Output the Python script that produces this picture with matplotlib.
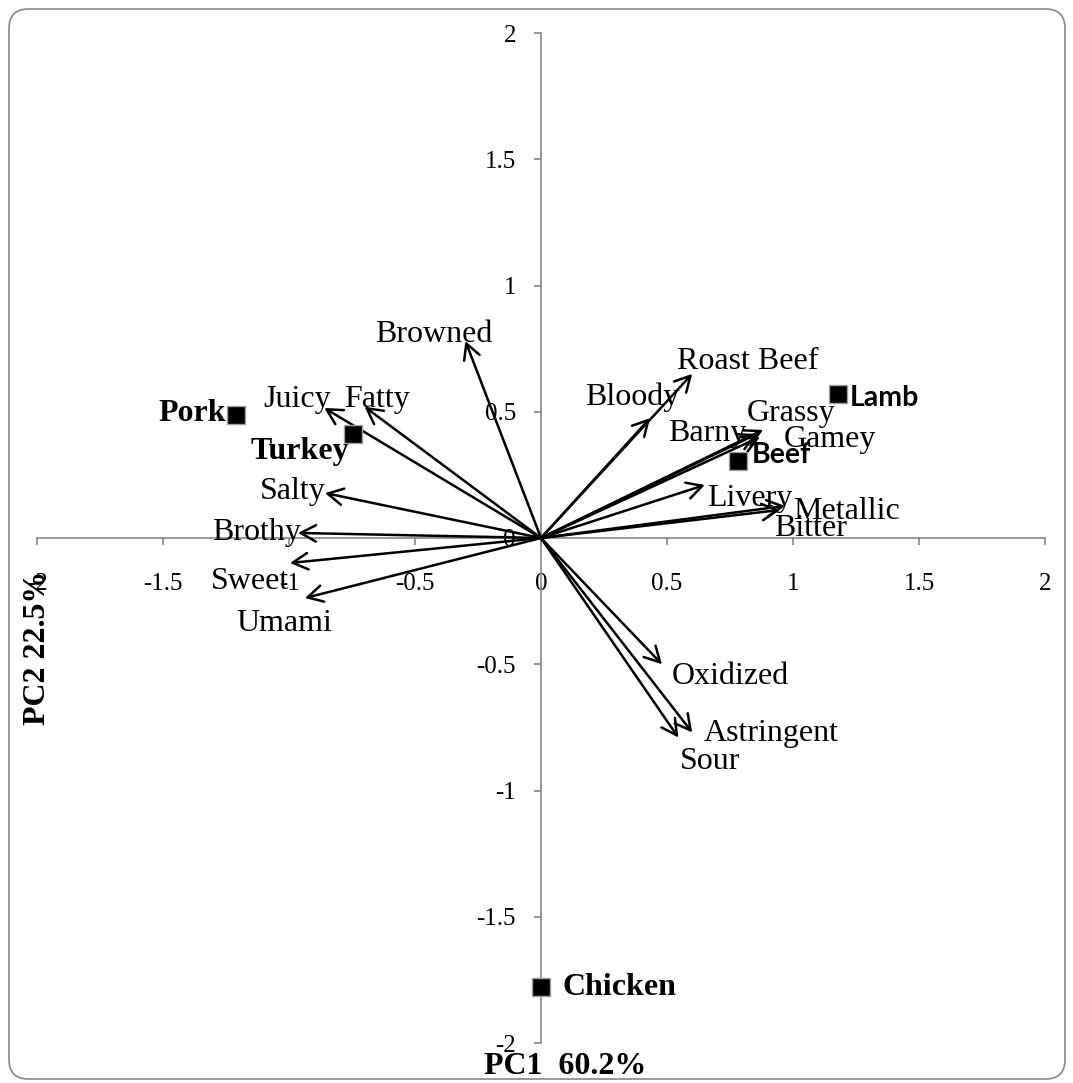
import matplotlib.pyplot as plt
from matplotlib.patches import FancyBboxPatch
from matplotlib.ticker import FixedLocator, FuncFormatter

# attribute loadings (PC1, PC2)
attributes = ['Browned', 'Juicy', 'Fatty', 'Salty', 'Brothy', 'Sweet', 'Umami',
              'Bloody', 'Roast Beef', 'Barny', 'Grassy', 'Gamey', 'Livery',
              'Metallic', 'Bitter', 'Oxidized', 'Astringent', 'Sour']
load_pc1 = [-0.30, -0.86, -0.70, -0.857, -0.964, -0.996, -0.937,
            0.433, 0.60, 0.857, 0.881, 0.869, 0.65,
            0.968, 0.948, 0.48, 0.60, 0.545]
load_pc2 = [0.78, 0.515, 0.52, 0.178, 0.020, -0.099, -0.238,
            0.475, 0.65, 0.412, 0.428, 0.400, 0.21,
            0.127, 0.111, -0.50, -0.77, -0.79]

# where each attribute name sits
label_x = [-0.425, -0.968, -0.651, -0.984, -1.127, -1.155, -1.020,
           0.361, 0.821, 0.659, 0.992, 1.147, 0.829,
           1.214, 1.071, 0.75, 0.913, 0.671]
label_y = [0.805, 0.548, 0.548, 0.184, 0.022, -0.172, -0.339,
           0.556, 0.699, 0.414, 0.493, 0.390, 0.156,
           0.105, 0.038, -0.549, -0.774, -0.885]

# meat sample scores
meats = ['Pork', 'Turkey', 'Lamb', 'Beef', 'Chicken']
score_pc1 = [-1.212, -0.746, 1.177, 0.780, 0.0]
score_pc2 = [0.489, 0.412, 0.570, 0.305, -1.78]

ticks = [-2, -1.5, -1, -0.5, 0, 0.5, 1, 1.5, 2]

serif = 'Liberation Serif'
grey = '#868686'

fig = plt.figure(figsize=(10.73, 10.83), dpi=100)
ax = fig.add_axes([37 / 1073, 1 - 1043 / 1083, 1008 / 1073, 1010 / 1083])
ax.set_xlim(-2, 2)
ax.set_ylim(-2, 2)
ax.patch.set_alpha(0)

for side in ['top', 'right']:
    ax.spines[side].set_visible(False)
for side in ['left', 'bottom']:
    ax.spines[side].set_position('zero')
    ax.spines[side].set_color(grey)
    ax.spines[side].set_linewidth(1.2)

fmt = FuncFormatter(lambda v, pos: f'{v:g}')
ax.xaxis.set_major_locator(FixedLocator(ticks))
ax.yaxis.set_major_locator(FixedLocator(ticks))
ax.xaxis.set_major_formatter(fmt)
ax.yaxis.set_major_formatter(fmt)
ax.tick_params(axis='x', direction='out', length=5, width=1.2, color=grey,
               pad=20, labelsize=18)
ax.tick_params(axis='y', direction='out', length=5, width=1.2, color=grey,
               pad=13, labelsize=18)
for lab in ax.get_xticklabels() + ax.get_yticklabels():
    lab.set_fontfamily(serif)

# loading vectors from the origin
for name, x, y, tx, ty in zip(attributes, load_pc1, load_pc2, label_x, label_y):
    ax.annotate('', xy=(x, y), xytext=(0, 0),
                arrowprops=dict(arrowstyle='->,head_length=0.5,head_width=0.27',
                                lw=1.8, color='black', shrinkA=0, shrinkB=0,
                                mutation_scale=22))
    ax.text(tx, ty, name, fontsize=23, family=serif, ha='center', va='center')

# sample scores
ax.plot(score_pc1, score_pc2, ls='none', marker='s', markersize=13,
        markerfacecolor='black', markeredgecolor='#a0a0a0', markeredgewidth=1,
        zorder=5, clip_on=False)

ax.text(-1.25, 0.495, 'Pork', fontsize=23, family=serif, weight='bold',
        ha='right', va='center')
ax.text(-0.956, 0.343, 'Turkey', fontsize=23, family=serif, weight='bold',
        ha='center', va='center')
ax.text(1.226, 0.555, 'Lamb', fontsize=20.5, family='Lato', weight='bold',
        ha='left', va='center')
ax.text(0.837, 0.328, 'Beef', fontsize=20.5, family='Lato', weight='bold',
        ha='left', va='center')
ax.text(0.087, -1.78, 'Chicken', fontsize=23, family=serif, weight='bold',
        ha='left', va='center')

# axis titles
fig.text(565 / 1073, 1 - 1066 / 1083, 'PC1  60.2%', fontsize=23, family=serif,
         weight='bold', ha='center', va='center')
fig.text(38 / 1073, 1 - 648 / 1083, 'PC2 22.5%', fontsize=23, family=serif,
         weight='bold', ha='center', va='center', rotation=90)

# rounded chart border
frame = FancyBboxPatch((9 / 1073, 4 / 1083), 1056 / 1073, 1070 / 1083,
                       boxstyle='round,pad=0,rounding_size=0.018',
                       transform=fig.transFigure, facecolor='none',
                       edgecolor=grey, linewidth=1.2)
fig.patches.append(frame)

fig.savefig('out.png', dpi=100)
